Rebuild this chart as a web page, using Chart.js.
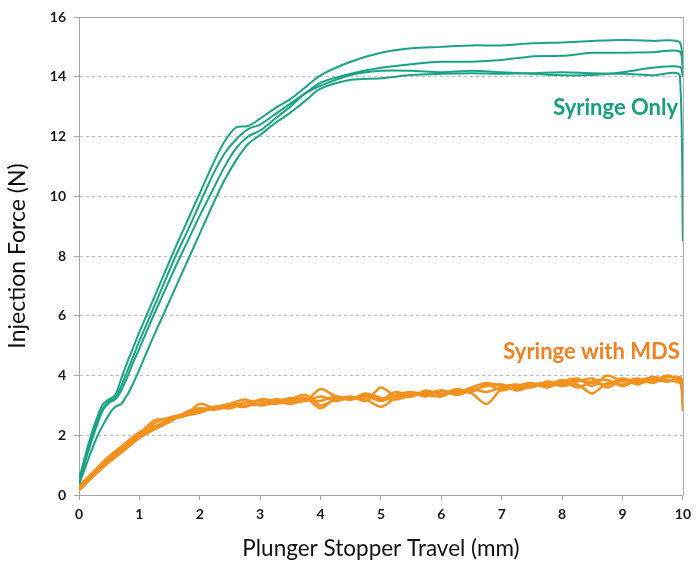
<!DOCTYPE html>
<html lang="en">
<head>
    <meta charset="UTF-8">
    <title>Injection Force vs Plunger Stopper Travel</title>
    <script src="https://cdn.jsdelivr.net/npm/chart.js"></script>
    <style>
        *{
            margin: 0;
            padding: 0;
        }
        body{
            background: white;
        }
        #wrap{
            width: 697px;
            height: 566px;
        }
    </style>
</head>
<body>
    <div id="wrap"><canvas id="chart"></canvas></div>
    <script>
        // travel (mm) for the syringe-only runs
        const greenX = [0,0.1,0.2,0.3,0.4,0.5,0.6,0.7,0.8,0.9,1.0,1.2,1.4,1.6,1.8,2.0,2.2,2.4,2.6,2.8,3.0,3.25,3.5,3.75,4.0,4.5,5.0,5.5,6.0,6.5,7.0,7.5,8.0,8.5,9.0,9.5,9.95,10]
        const onlyA = [0.5,1.3,2.0,2.6,3.05,3.2,3.35,3.9,4.45,4.95,5.45,6.4,7.35,8.3,9.2,10.1,11.0,11.8,12.3,12.35,12.6,12.95,13.25,13.65,14.05,14.5,14.8,14.95,15.0,15.05,15.05,15.12,15.15,15.2,15.23,15.2,15.15,14.3]
        const onlyB = [0.45,1.2,1.85,2.45,2.9,3.15,3.25,3.65,4.15,4.65,5.15,6.1,7.05,8.0,8.85,9.75,10.65,11.4,11.9,12.25,12.4,12.75,13.1,13.45,13.8,14.1,14.3,14.42,14.5,14.5,14.56,14.68,14.7,14.8,14.8,14.82,14.84,14.2]
        const onlyC = [0.4,1.1,1.75,2.35,2.85,3.1,3.2,3.5,3.95,4.45,4.9,5.85,6.75,7.65,8.5,9.35,10.15,10.95,11.6,12.0,12.2,12.6,13.0,13.45,13.7,14.06,14.2,14.2,14.15,14.2,14.15,14.1,14.05,14.06,14.15,14.3,14.33,14.0]
        const onlyD = [0.35,0.9,1.45,1.95,2.35,2.7,2.95,3.05,3.35,3.75,4.2,5.15,6.05,6.95,7.85,8.75,9.65,10.5,11.2,11.75,12.05,12.45,12.8,13.2,13.6,13.9,13.95,14.06,14.1,14.12,14.1,14.12,14.15,14.12,14.1,14.05,14.03,8.5]

        // travel (mm) for the syringe with MDS runs
        const orangeX = [0,0.25,0.5,0.75,1,1.25,1.5,1.75,2,2.25,2.5,2.75,3,3.25,3.5,3.75,4,4.25,4.5,4.75,5,5.25,5.5,5.75,6,6.25,6.5,6.75,7,7.25,7.5,7.75,8,8.25,8.5,8.75,9,9.25,9.5,9.75,9.95,10]
        const mds1 = [0.2,0.7,1.15,1.55,1.95,2.4,2.6,2.7,2.85,2.95,3.05,3.2,3.0,3.1,3.25,3.15,3.55,3.3,3.2,3.35,3.2,3.45,3.3,3.5,3.35,3.55,3.45,3.7,3.5,3.65,3.75,3.6,3.8,3.9,3.65,4.0,3.8,3.9,3.75,3.95,3.85,2.8]
        const mds2 = [0.3,0.8,1.3,1.7,2.1,2.3,2.5,2.65,2.75,2.95,2.9,3.1,3.15,3.05,3.2,3.35,3.0,3.2,3.3,3.15,3.6,3.3,3.4,3.3,3.5,3.4,3.6,3.75,3.65,3.7,3.6,3.8,3.7,3.85,3.75,3.7,3.9,3.75,3.85,3.8,3.9,3.7]
        const mds3 = [0.15,0.65,1.1,1.5,1.9,2.2,2.45,2.75,2.9,2.85,3.0,2.95,3.2,3.15,3.05,3.2,3.15,3.3,3.2,3.3,3.15,3.35,3.45,3.35,3.3,3.5,3.4,3.05,3.55,3.6,3.7,3.75,3.65,3.7,3.4,3.75,3.7,3.8,3.95,3.85,3.75,3.6]
        const mds4 = [0.25,0.75,1.25,1.65,2.05,2.5,2.55,2.7,2.8,2.9,3.05,3.0,3.05,3.2,3.1,3.15,3.3,3.15,3.25,3.2,2.95,3.25,3.3,3.45,3.4,3.45,3.55,3.45,3.6,3.55,3.7,3.65,3.85,3.6,3.8,3.85,3.65,3.85,3.8,4.0,3.8,3.5]
        const mds5 = [0.2,0.7,1.2,1.6,2.0,2.25,2.55,2.65,3.05,2.9,2.95,3.1,3.05,3.2,3.15,3.25,2.9,3.25,3.2,3.4,3.25,3.2,3.35,3.4,3.5,3.35,3.5,3.65,3.7,3.5,3.65,3.7,3.75,3.8,3.9,3.6,3.85,3.7,3.9,3.8,3.95,3.8]

        const xTicks = [0,1,2,3,4,5,6,7,8,9,10]
        const yTicks = [0,2,4,6,8,10,12,14,16]

        const green = 'rgb(27,163,133)'
        const orange = 'rgb(242,146,30)'
        const font = 'Lato, "Open Sans", sans-serif'

        function pts(xs, ys){
            return xs.map((x, i) => ({x: x, y: ys[i]}))
        }

        function line(xs, ys, color, width){
            return {
                data: pts(xs, ys),
                borderColor: color,
                backgroundColor: color,
                borderWidth: width,
                pointRadius: 0,
                tension: 0.3,
                fill: false
            }
        }

        const datasets = [
            line(greenX, onlyA, green, 2),
            line(greenX, onlyB, green, 2),
            line(greenX, onlyC, green, 2),
            line(greenX, onlyD, green, 2),
            line(orangeX, mds1, orange, 2.5),
            line(orangeX, mds2, orange, 2.5),
            line(orangeX, mds3, orange, 2.5),
            line(orangeX, mds4, orange, 2.5),
            line(orangeX, mds5, orange, 2.5)
        ]

        // labels placed in data coordinates
        const notes = [
            {text: 'Syringe Only', x: 9.92, y: 12.95, color: 'rgb(22,160,125)'},
            {text: 'Syringe with MDS', x: 9.95, y: 4.8, color: 'rgb(240,128,34)'}
        ]

        const extras = {
            id: 'extras',
            afterDatasetsDraw(chart){
                const ctx = chart.ctx
                const a = chart.chartArea
                const xs = chart.scales.x
                const ys = chart.scales.y
                ctx.save()
                ctx.strokeStyle = '#a6a6a6'
                ctx.lineWidth = 1
                ctx.beginPath()
                ctx.moveTo(a.left, a.top + 0.5)
                ctx.lineTo(a.right + 0.5, a.top + 0.5)
                ctx.lineTo(a.right + 0.5, a.bottom)
                ctx.stroke()
                ctx.font = 'bold 22px ' + font
                ctx.textAlign = 'right'
                ctx.textBaseline = 'middle'
                notes.forEach(n => {
                    ctx.fillStyle = n.color
                    ctx.fillText(n.text, xs.getPixelForValue(n.x), ys.getPixelForValue(n.y))
                })
                ctx.restore()
            }
        }

        new Chart(document.getElementById('chart'), {
            type: 'line',
            data: {datasets: datasets},
            plugins: [extras],
            options: {
                responsive: true,
                maintainAspectRatio: false,
                animation: false,
                layout: {padding: {top: 17, right: 13, left: 0, bottom: 0}},
                plugins: {
                    legend: {display: false},
                    tooltip: {enabled: false}
                },
                scales: {
                    x: {
                        type: 'linear',
                        min: 0,
                        max: 10,
                        afterBuildTicks: s => { s.ticks = xTicks.map(v => ({value: v})) },
                        afterFit: s => { s.height = 71 },
                        grid: {drawOnChartArea: false, drawTicks: true, tickLength: 5, color: '#a6a6a6'},
                        border: {color: '#a6a6a6'},
                        ticks: {
                            color: '#1a1a1a',
                            padding: 6,
                            maxRotation: 0,
                            font: {family: font, size: 14, weight: 'bold'}
                        },
                        title: {
                            display: true,
                            text: 'Plunger Stopper Travel (mm)',
                            color: '#111',
                            padding: {top: 12},
                            font: {family: font, size: 22.5}
                        }
                    },
                    y: {
                        min: 0,
                        max: 16,
                        afterBuildTicks: s => { s.ticks = yTicks.map(v => ({value: v})) },
                        afterFit: s => { s.width = 79 },
                        grid: {
                            color: c => (c.tick.value === 0 || c.tick.value === 16) ? 'rgba(0,0,0,0)' : '#bdbdbd',
                            tickColor: '#a6a6a6',
                            tickLength: 5
                        },
                        border: {color: '#a6a6a6', dash: [3, 3]},
                        ticks: {
                            color: '#1a1a1a',
                            padding: 8,
                            font: {family: font, size: 14, weight: 'bold'}
                        },
                        title: {
                            display: true,
                            text: 'Injection Force (N)',
                            color: '#111',
                            padding: {bottom: 8},
                            font: {family: font, size: 23}
                        }
                    }
                }
            }
        })
    </script>
</body>
</html>
